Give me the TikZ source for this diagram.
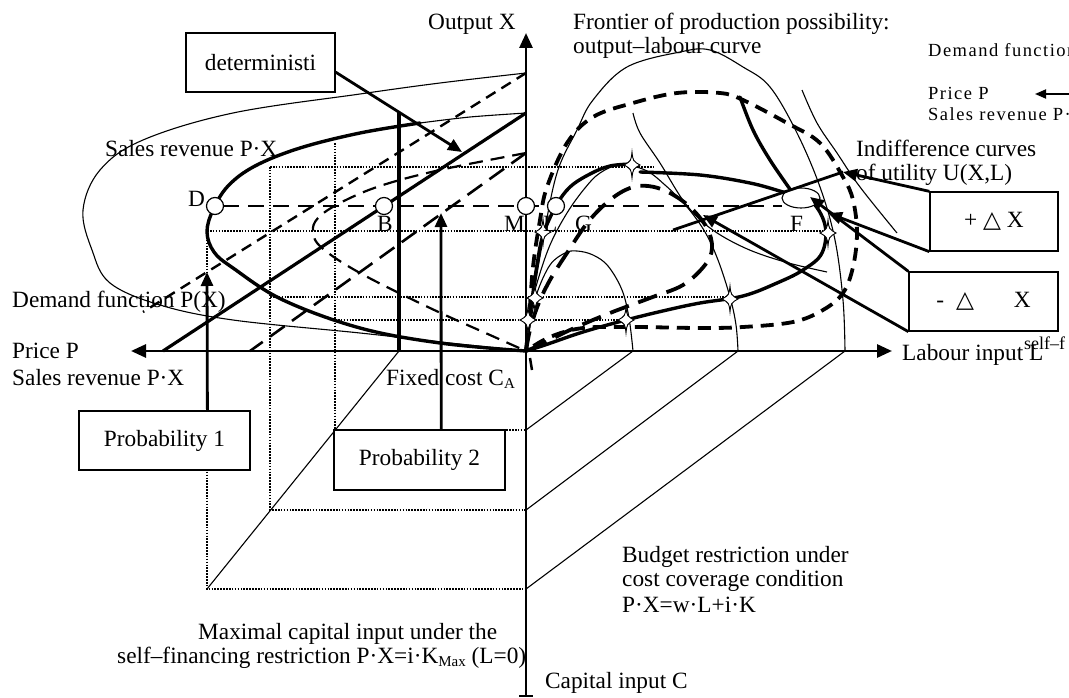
\documentclass[tikz,border=0pt]{standalone}
\usepackage{fontspec}
\setmainfont{Liberation Serif}
\newfontfamily\symf{DejaVu Sans}
\usetikzlibrary{arrows.meta,calc}
\newcommand\mysub[1]{\raisebox{-3pt}{\fontsize{15}{15}\selectfont #1}}
\begin{document}
\begin{tikzpicture}[x=1pt,y=-1pt,
  thinc/.style={line width=1.1pt},
  thickc/.style={line width=3.4pt, line join=round, line cap=round},
  dotl/.style={line width=1.7pt, dash pattern=on 1.6pt off 1.3pt},
  arrl/.style={line width=2.8pt, -{Triangle[length=14pt,width=12pt]}},
  boxn/.style={draw, line width=1.3pt, fill=white, inner sep=0pt, font=\fontsize{23.3}{26}\selectfont},
  lbl/.style={inner sep=0pt, anchor=base west, font=\fontsize{23.3}{26}\selectfont},
  smalll/.style={inner sep=0pt, anchor=base west, font=\fontsize{18.5}{20}\selectfont\addfontfeature{LetterSpace=8}},
  tinyl/.style={inner sep=0pt, anchor=base west, font=\fontsize{18}{20}\selectfont},
  ptc/.style={circle, draw, fill=white, line width=1.2pt, minimum size=17pt, inner sep=0pt},
  fstar/.pic={\draw[line width=0.9pt, fill=white] (0,-13) .. controls (1,-4) .. (8,0) .. controls (1,4) .. (0,13) .. controls (-1,4) .. (-8,0) .. controls (-1,-4) .. cycle;}
]
\useasboundingbox (0,0) rectangle (1069,698);
\clip (0,0) rectangle (1069,698);

% ---------- dotted guide lines ----------
\draw[dotl] (270,167) -- (653,167);
\draw[dotl] (207,231) -- (823,231);
\draw[dotl] (270,297) -- (728,297);
\draw[dotl] (335,320) -- (627,320);
\draw[dotl] (270,167) -- (270,510) -- (526,510);
\draw[dotl] (335,143) -- (335,430) -- (526,430);
\draw[dotl] (207,231) -- (207,589) -- (526,589);

% ---------- lower quadrants: thin lines ----------
\draw[thinc] (399,351) -- (207,589);
\draw[thinc] (526,430) -- (633,351);
\draw[thinc] (526,510) -- (738,351);
\draw[thinc] (526,589) -- (845,351);

% ---------- left quadrant ----------
\draw[thinc] plot[smooth, tension=0.6] coordinates {(526,73) (440,83) (360,94) (233,113) (143,140) (100,170) (83,210) (92,250) (110,283) (160,305) (233,320) (360,333) (450,343) (526,351)};
\draw[thinc] plot[smooth] coordinates {(526,113) (470,117) (420,123)};
\draw[thickc] plot[smooth, tension=0.6] coordinates {(420,123) (360,133) (300,148) (255,166) (228,186) (213,210) (207,232) (214,252) (233,268) (283,300) (360,328) (440,343) (526,351)};
\draw[line width=2.2pt, dash pattern=on 14pt off 8pt] plot[smooth, tension=0.6] coordinates {(526,153) (440,170) (380,186) (340,203) (318,218) (313,232) (322,248) (360,273) (430,308) (490,335) (526,351)};
\draw[line width=2.4pt, dash pattern=on 11pt off 7pt] (526,73) -- (143,312);
\draw[line width=2.6pt, dash pattern=on 18pt off 9pt] (526,153) -- (250,351);
\draw[line width=3.2pt] (526,113) -- (163,351);
\draw[line width=3.2pt] (399,112) -- (399,351);

% ---------- right quadrant ----------
\draw[thinc] plot[smooth, tension=0.6] coordinates {(527,348) (531,320) (537,293) (550,265) (565,253) (577,251) (593,255) (608,266) (622,290) (629,318) (633,351)};
\draw[thinc] plot[smooth, tension=0.6] coordinates {(527,350) (531,310) (537,283) (550,245) (567,213) (585,188) (600,173) (620,165) (645,170) (665,185) (687,207) (705,232) (718,260) (730,297) (736,325) (738,351)};
\draw[thinc] plot[smooth, tension=0.6] coordinates {(527,350) (533,300) (543,240) (557,173) (577,130) (593,100) (627,67) (680,52) (710,50) (743,67) (770,87) (797,133) (820,187) (835,240) (843,300) (845,351)};
\draw[thinc] plot[smooth, tension=0.6] coordinates {(633,113) (640,133) (660,163) (685,203) (710,228) (745,248) (785,262) (827,272)};
\draw[thinc] plot[smooth, tension=0.6] coordinates {(802,90) (817,123) (837,153) (860,187) (897,233)};
\draw[thickc] plot[smooth, tension=0.6] coordinates {(740,97) (753,130) (770,160) (792,192)};
% thick loop
\draw[thickc] plot[smooth, tension=0.6] coordinates {(526,351) (528,330) (532,300) (537,265) (543,235) (556,206) (570,187) (590,174) (610,166) (632,164)};
\draw[thickc] plot[smooth, tension=0.6] coordinates {(640,172) (700,175) (750,183) (783,192) (810,200) (825,225) (822,253) (803,270) (777,283) (743,296) (700,303) (667,310) (626,320) (583,332) (545,345) (526,351)};
% dashed loops
\draw[line width=3.8pt, dash pattern=on 13pt off 8pt] plot[smooth, tension=0.6] coordinates {(526,351) (529,320) (533,267) (540,220) (547,187) (567,143) (593,117) (633,103) (677,93) (720,93) (743,100) (787,123) (820,143) (843,177) (853,200) (857,233) (853,267) (843,293) (823,310) (793,322) (743,327) (700,328) (633,327) (583,328) (550,337) (526,351)};
\draw[line width=3.8pt, dash pattern=on 20pt off 10pt] plot[smooth, tension=0.6] coordinates {(526,351) (530,330) (538,305) (550,280) (567,253) (588,222) (610,200) (630,188) (648,186) (668,192) (690,207) (707,228) (712,248) (705,265) (683,285) (650,298) (610,313) (570,330) (540,345) (526,351)};
\draw[line width=2.5pt] (530,358) -- (532,370);

% ---------- dashed level line ----------
\coordinate (Dc) at (223,206);
\coordinate (Fend) at (782,206);
\draw[line width=2pt, dash pattern=on 16pt off 9pt] (Dc) -- (Fend);

% ---------- axes ----------
\coordinate (O) at (526,351);
\coordinate (xTop) at (526,33);
\coordinate (xBot) at (526,696);
\coordinate (pLeft) at (131,351);
\coordinate (lRight) at (892,351);
\draw[line width=2.8pt, -{Triangle[length=15pt,width=13pt]}] (xBot) -- (xTop);
\draw[line width=2pt] (519,696) -- (533,696);
\draw[line width=2.8pt, {Triangle[length=15pt,width=13pt]}-{Triangle[length=15pt,width=13pt]}] (pLeft) -- (lRight);

% ---------- points ----------
\node[ptc] (D) at (215,206) {};
\node[ptc] (B) at (384,206) {};
\node[ptc] (M) at (526,206) {};
\node[ptc] (L) at (556,206) {};
\draw[line width=1.1pt, fill=white] (801,198) ellipse [x radius=19pt, y radius=10pt];

\foreach \p in {(632,165),(543,232),(535,298),(528,320),(626,320),(730,299),(828,233)} \pic at \p {fstar};

% ---------- boxes ----------
\node[boxn, minimum width=149pt, minimum height=59pt] (det) at (260.5,62.5) {deterministi};
\node[boxn, minimum width=171pt, minimum height=59pt] (pb1) at (164.5,440.5) {Probability 1\hspace{12pt}};
\node[boxn, minimum width=171pt, minimum height=60pt] (pb2) at (419.5,460) {Probability 2\hspace{10pt}};
\node[boxn, minimum width=128pt, minimum height=59pt] (pdx) at (994,221.5) {+ {\symf △} X};
\node[boxn, minimum width=149pt, minimum height=59pt] (mdx) at (983.5,301.5) {-\hspace{12pt}{\symf △}\hspace{40pt}X};

% ---------- connectors ----------
\coordinate (tDet) at (462,152);
\coordinate (tP1) at (207,272);
\coordinate (tP2) at (441,213);
\coordinate (tA) at (843,172);
\coordinate (sA) at (673,230);
\coordinate (tB) at (828,213);
\coordinate (tC) at (810,197);
\coordinate (tD) at (703,215);
\draw[arrl] ($(det.north east)!0.66!(det.south east)$) -- (tDet);
\draw[arrl] ($(pb1.north west)!0.749!(pb1.north east)$) -- (tP1);
\draw[arrl] ($(pb2.north west)!0.626!(pb2.north east)$) -- (tP2);
\draw[line width=2.8pt] (sA) -- (tA);
\draw[arrl] (pdx.north west) -- (tA);
\draw[arrl] (pdx.south west) -- (tB);
\draw[arrl] (mdx.north west) -- (tC);
\draw[arrl] (mdx.south west) -- (tD);
\coordinate (legR) at (1080,94);
\coordinate (legL) at (1035,94);
\draw[line width=1.8pt, -{Triangle[length=11pt,width=9pt]}] (legR) -- (legL);

% ---------- labels ----------
\node[lbl] (lOut) at (428,30) {Output X};
\node[lbl] (lFr1) at (573,30) {Frontier of production possibility:};
\node[lbl] (lFr2) at (573,54) {output–labour curve};
\node[smalll] (lDem) at (928,57) {Demand function};
\node[smalll] (lPr2) at (928,100) {Price P};
\node[smalll] (lSr2) at (928,121) {Sales revenue P·X};
\node[lbl] (lInd1) at (856,157) {Indifference curves};
\node[lbl] (lInd2) at (856,181) {of utility U(X,L)};
\node[lbl] (lSr) at (105,157) {Sales revenue P·X};
\node[lbl] (lD) at (188,207) {D};
\node[lbl] (lB) at (377,231) {B};
\node[lbl] (lM) at (504,231) {M};
\node[lbl] (lL) at (543,231) {L};
\node[lbl] (lG) at (575,231) {G};
\node[lbl] (lF) at (790,231) {F};
\node[lbl] (lDf) at (12,307) {Demand function P(X)};
\node[lbl] (lPr) at (12,358) {Price P};
\node[lbl] (lSr3) at (12,385) {Sales revenue P·X};
\node[lbl] (lFc) at (386,385) {Fixed cost C\mysub{A}};
\node[lbl] (lLab) at (902,360) {Labour input L};
\node[tinyl] (lSelf) at (1024,349) {self–f};
\node[lbl] (lB1) at (622,562) {Budget restriction under};
\node[lbl] (lB2) at (622,586) {cost coverage condition};
\node[lbl] (lB3) at (622,612) {P·X=w·L+i·K};
\node[lbl] (lMax1) at (198,639) {Maximal capital input under the};
\node[lbl] (lMax2) at (117,663) {self–financing restriction P·X=i·K\mysub{Max} (L=0)};
\node[lbl] (lCap) at (545,688) {Capital input C};
\end{tikzpicture}
\end{document}
